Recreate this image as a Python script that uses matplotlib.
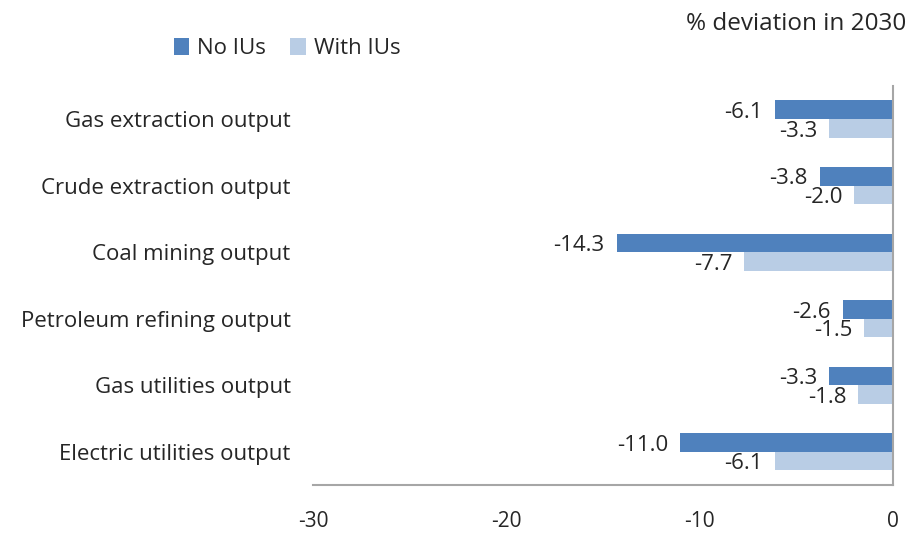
import matplotlib
matplotlib.use("Agg")
import matplotlib.pyplot as plt
import numpy as np

# data
categories = ["Gas extraction output", "Crude extraction output", "Coal mining output",
              "Petroleum refining output", "Gas utilities output", "Electric utilities output"]
no_ius = [-6.1, -3.8, -14.3, -2.6, -3.3, -11.0]
with_ius = [-3.3, -2.0, -7.7, -1.5, -1.8, -6.1]
x_ticks = [-30, -20, -10, 0]

plt.rcParams['font.family'] = ['Open Sans', 'DejaVu Sans']
fs = 16
text_col = "#262626"

fig = plt.figure(figsize=(9.15, 5.36), dpi=100)
ax = fig.add_axes([0.342, 0.095, 0.634, 0.745])

y = np.arange(len(categories))
h = 0.28
b1 = ax.barh(y - h / 2, no_ius, height=h, color="#4F81BD", label="No IUs")
b2 = ax.barh(y + h / 2, with_ius, height=h, color="#B9CDE5", label="With IUs")

# value labels to the left of each bar end
for bars, vals in [(b1, no_ius), (b2, with_ius)]:
    for rect, v in zip(bars, vals):
        ax.annotate(f"{v:.1f}", (v, rect.get_y() + rect.get_height() / 2 + 0.04),
                    xytext=(-12, 0), textcoords="offset pixels",
                    ha="right", va="center", fontsize=fs, color=text_col)

ax.set_xlim(-30, 0)
ax.set_ylim(len(categories) - 0.5, -0.5)
ax.set_xticks(x_ticks)
ax.set_xticklabels([str(t) for t in x_ticks], fontsize=15, color=text_col)
ax.set_yticks(y)
ax.set_yticklabels(categories, fontsize=fs, color=text_col)
ax.tick_params(axis="x", length=0, pad=19)
ax.tick_params(axis="y", length=0, pad=16)

for s in ["top", "left"]:
    ax.spines[s].set_visible(False)
for s in ["bottom", "right"]:
    ax.spines[s].set_color("#A6A6A6")
    ax.spines[s].set_linewidth(1.5)

fig.legend(handles=[b1, b2], loc="center left", bbox_to_anchor=(0.168, 0.91), ncol=2,
           frameon=False, fontsize=fs, handlelength=0.7, handleheight=0.8,
           handletextpad=0.35, columnspacing=1.1, labelcolor=text_col)
fig.text(0.99, 0.955, "% deviation in 2030", ha="right", va="center", fontsize=17.5,
         color=text_col)

fig.savefig("out.png", dpi=100)
